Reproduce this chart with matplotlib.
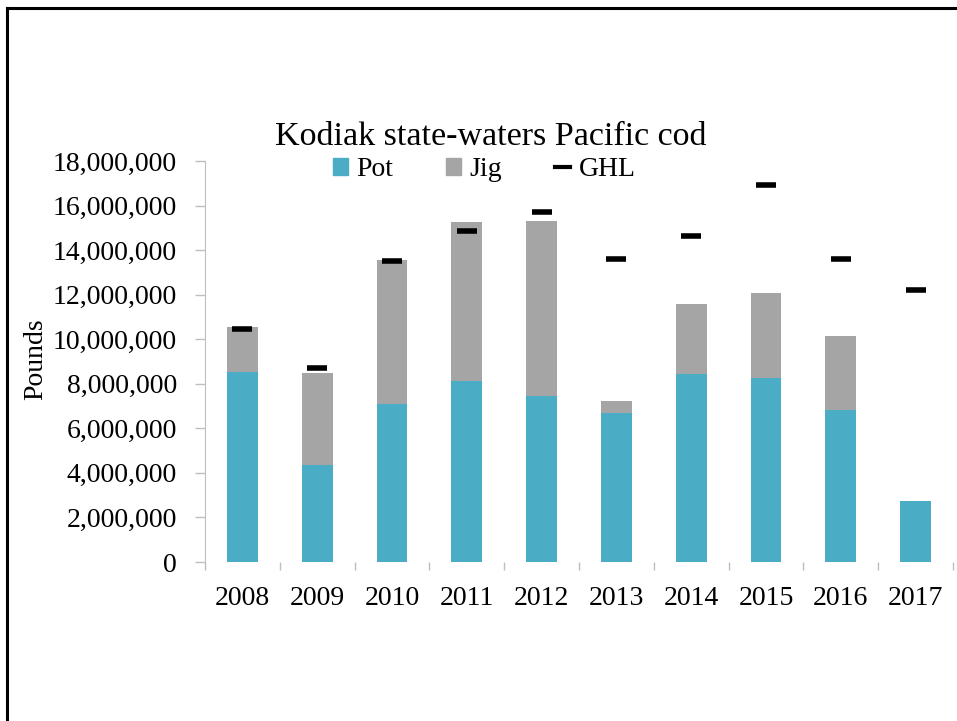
import matplotlib.pyplot as plt
import matplotlib.ticker as mticker
from matplotlib.patches import Patch
from matplotlib.lines import Line2D
import numpy as np

# Data (pounds)
years = ['2008', '2009', '2010', '2011', '2012', '2013', '2014', '2015', '2016', '2017']
pot = [8540000, 4350000, 7100000, 8140000, 7450000, 6690000, 8420000, 8260000, 6820000, 2720000]
jig = [2010000, 4130000, 6450000, 7130000, 7870000, 520000, 3160000, 3830000, 3320000, 20000]
ghl = [10440000, 8720000, 13520000, 14870000, 15720000, 13610000, 14650000, 16940000, 13610000, 12190000]

POT_COLOR = '#4BACC6'
JIG_COLOR = '#A5A5A5'
plt.rcParams['font.family'] = ['Liberation Serif', 'DejaVu Serif']

W, H = 957, 721
fig = plt.figure(figsize=(W / 100, H / 100), dpi=100)
ax = fig.add_axes([205 / W, 1 - 562 / H, (953 - 205) / W, (562 - 161) / H])

x = np.arange(len(years))
ax.bar(x, pot, width=0.41, color=POT_COLOR, edgecolor='none')
ax.bar(x, jig, width=0.41, bottom=pot, color=JIG_COLOR, edgecolor='none')
ax.plot(x, ghl, ls='none', marker='_', ms=15, mew=4, color='black')

ax.set_xlim(-0.5, len(years) - 0.5)
ax.set_ylim(0, 18000000)
ax.yaxis.set_major_locator(mticker.MultipleLocator(2000000))
ax.yaxis.set_major_formatter(mticker.FuncFormatter(lambda v, p: f'{int(v):,}'))

ax.set_xticks(x)
ax.set_xticklabels(years)
ax.set_xticks(np.arange(-0.5, len(years)), minor=True)
ax.tick_params(axis='x', which='major', length=0, pad=17, labelsize=20)
ax.tick_params(axis='x', which='minor', length=6, color='#BFBFBF', width=1)
ax.tick_params(axis='y', length=7, color='#BFBFBF', width=1, pad=13, labelsize=20)

for s in ['top', 'right', 'bottom']:
    ax.spines[s].set_visible(False)
ax.spines['left'].set_color('#BFBFBF')

fig.text(491 / W, 1 - 137 / H, 'Kodiak state-waters Pacific cod', ha='center', va='center', fontsize=24.5)
fig.text(36 / W, 1 - 359 / H, 'Pounds', rotation=90, ha='center', va='center', fontsize=20)

handles = [Patch(color=POT_COLOR, label='Pot'),
           Patch(color=JIG_COLOR, label='Jig'),
           Line2D([], [], color='black', lw=3, label='GHL')]
fig.legend(handles=handles, loc='center', bbox_to_anchor=(484 / W, 1 - 170 / H), ncol=3,
           frameon=False, fontsize=20, handlelength=0.55, handleheight=0.55,
           handletextpad=0.3, columnspacing=1.9, borderpad=0)

# outer frame (left and top edges)
fig.add_artist(Line2D([7 / W, 7 / W], [0, 1 - 7.5 / H], color='black', lw=2.2))
fig.add_artist(Line2D([7 / W, 1], [1 - 7.5 / H, 1 - 7.5 / H], color='black', lw=2.2))

fig.savefig('out.png', dpi=100)
